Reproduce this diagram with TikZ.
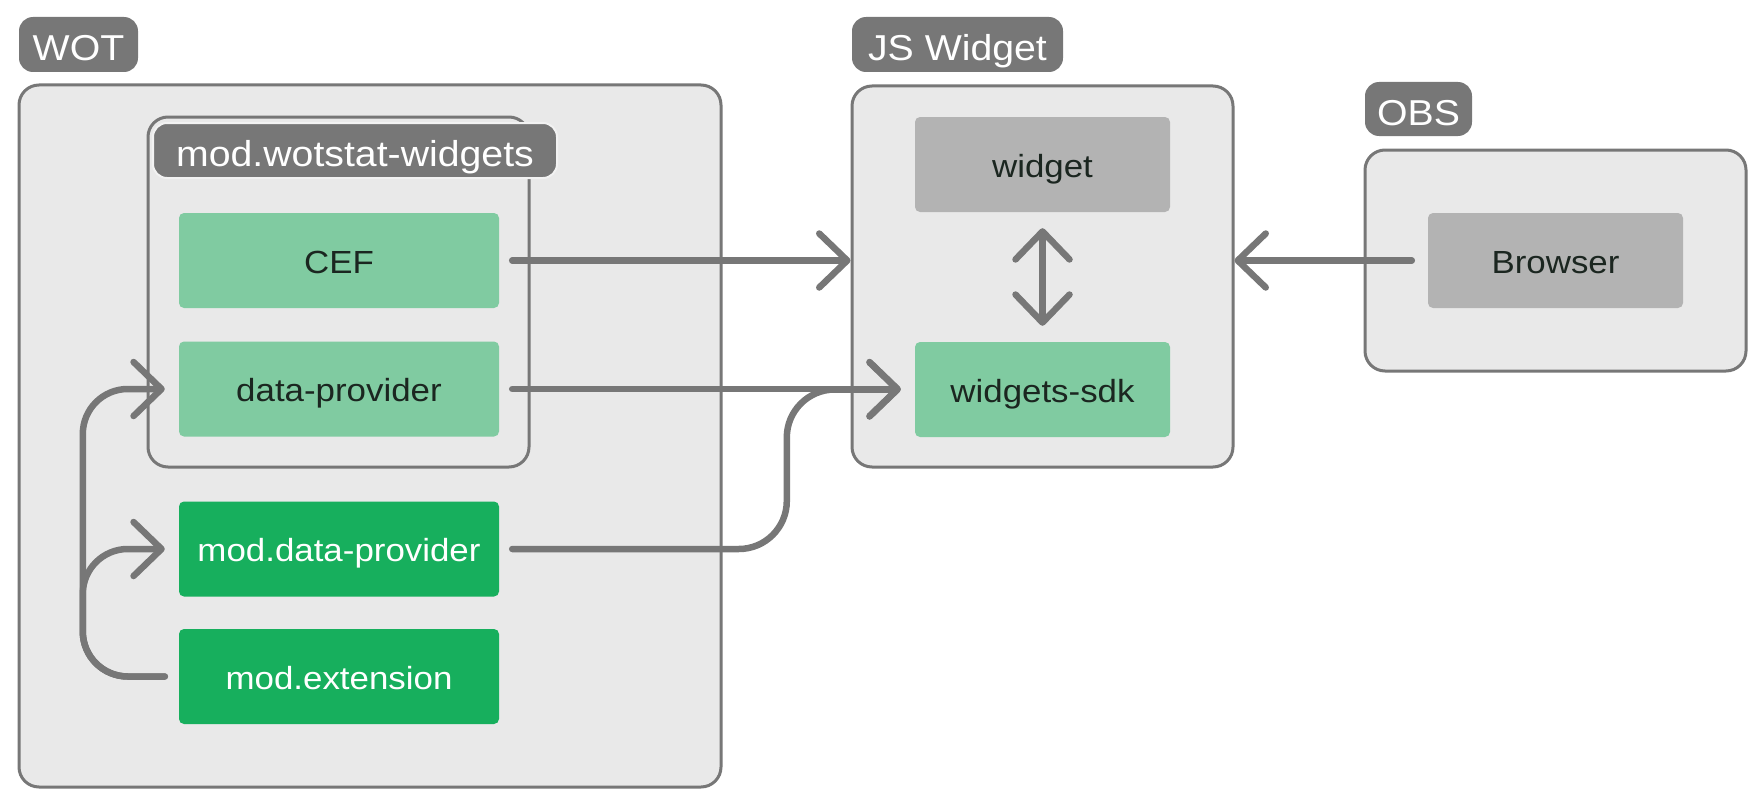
\documentclass[tikz,border=0pt]{standalone}
\usepackage{fontspec}
\setmainfont[FakeStretch=1.09]{Liberation Sans}
\usetikzlibrary{arrows.meta,calc}
\definecolor{edgegray}{HTML}{777777}
\definecolor{boxfill}{HTML}{E9E9E9}
\definecolor{lightgreen}{HTML}{80CBA1}
\definecolor{darkgreen}{HTML}{17AF5D}
\definecolor{nodegray}{HTML}{B3B3B3}
\definecolor{darktext}{HTML}{1B2620}
\definecolor{labeloutline}{HTML}{F2F2F2}
\tikzset{
  bigbox/.style={draw=edgegray, line width=3pt, fill=boxfill, rounded corners=20pt, inner sep=0pt},
  grouplabel/.style={draw=labeloutline, line width=2pt, fill=edgegray, rounded corners=14pt, inner sep=0pt,
    text=white, font=\fontsize{36}{40}\selectfont, minimum height=55pt, text height=32pt, text depth=0pt},
  compbox/.style={rounded corners=5pt, inner sep=0pt, minimum height=95pt,
    font=\fontsize{32}{36}\selectfont, text height=25pt, text depth=0pt},
  lightnode/.style={compbox, fill=lightgreen, text=darktext, minimum width=320pt},
  darknode/.style={compbox, fill=darkgreen, text=white, minimum width=320pt},
  graynode/.style={compbox, fill=nodegray, text=darktext, minimum width=255pt},
  sdknode/.style={compbox, fill=lightgreen, text=darktext, minimum width=255pt},
  conn/.style={draw=edgegray, line width=6.5pt, line cap=round, line join=round,
    -{Straight Barb[length=28pt, width=54pt, round]}},
  dconn/.style={draw=edgegray, line width=6.5pt, line cap=round, line join=round,
    {Straight Barb[length=28pt, width=54pt, round]}-{Straight Barb[length=28pt, width=54pt, round]}}
}
\begin{document}
\begin{tikzpicture}[x=1pt, y=-1pt]
\useasboundingbox (0,0) rectangle (1757,808);

% WOT group
\node[bigbox, minimum width=702pt, minimum height=702pt] (wot) at (370,436) {};
\node[grouplabel, minimum width=119pt, draw=none] (wotlabel) at (78.5,44.5) {WOT};
\node[bigbox, minimum width=381pt, minimum height=350pt] (mww) at (338.5,292) {};
\node[grouplabel, minimum width=404pt] (mwwlabel) at (355,150.5) {mod.wotstat-widgets};
\node[lightnode] (cef) at (339,260.5) {CEF};
\node[lightnode] (dp) at (339,389) {data-provider};
\node[darknode] (mdp) at (339,549) {mod.data-provider};
\node[darknode] (mext) at (339,676.5) {mod.extension};

% JS Widget group
\node[grouplabel, minimum width=211pt, draw=none] (jslabel) at (957.5,44.5) {JS Widget};
\node[bigbox, minimum width=381pt, minimum height=381pt] (js) at (1042.5,276.5) {};
\node[graynode] (widget) at (1042.5,164.5) {widget};
\node[sdknode] (sdk) at (1042.5,389.5) {widgets-sdk};

% OBS group
\node[grouplabel, minimum width=107pt, minimum height=54pt, draw=none] (obslabel) at (1418.5,109) {OBS};
\node[bigbox, minimum width=381pt, minimum height=221pt] (obs) at (1555.5,260.5) {};
\node[graynode] (browser) at (1555.5,260.5) {Browser};

% connectors
\draw[conn] ([xshift=13pt]cef.east) -- (cef.east -| js.west);
\draw[conn] ([xshift=13pt]dp.east) -- ([xshift=-14pt]sdk.west |- dp.east);
\draw[conn, rounded corners=48pt] ([xshift=13pt]mdp.east) -| ($(sdk.west)+(-128,0)$) -- ([xshift=-14pt]sdk.west);
\draw[conn] ([xshift=-16pt]browser.west) -- (browser.west -| js.east);
\draw[dconn] ([yshift=-16pt]widget.south) -- ([yshift=16pt]sdk.north);
\draw[conn, rounded corners=45pt] ([xshift=-14pt]mext.west) -- ++(-82,0) |- ([xshift=-14pt]dp.west);
\draw[conn, rounded corners=45pt] ([xshift=-14pt]mext.west) -- ++(-82,0) |- ([xshift=-14pt]mdp.west);
\end{tikzpicture}
\end{document}
